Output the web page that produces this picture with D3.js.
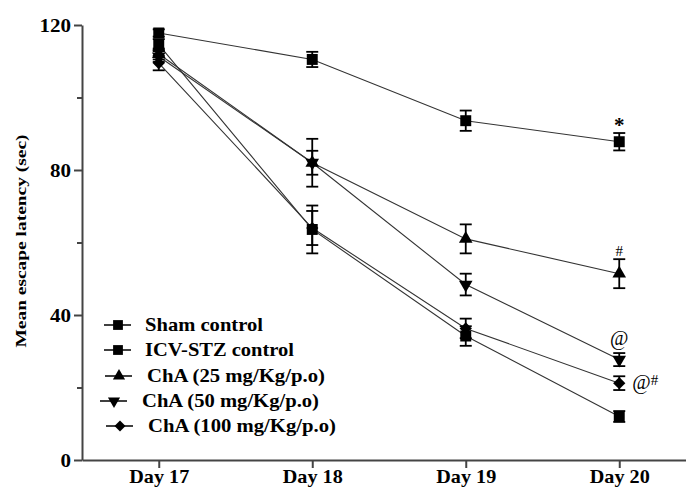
<!DOCTYPE html>
<html lang="en">
<head>
<meta charset="UTF-8">
<title>Mean escape latency</title>
<script src="https://d3js.org/d3.v7.min.js"></script>
<style>
    body { margin: 0; background: #fff; }
    svg { display: block; }
    text { font-family: "Liberation Serif", "Times New Roman", serif; fill: #000; }
    .axis path, .axis line { stroke: #444; stroke-width: 2; }
    .axis text { font-weight: bold; font-size: 19px; }
    .series { fill: none; stroke: #333; stroke-width: 1.1; }
    .err { stroke: #000; stroke-width: 1.8; }
    .legend text { font-weight: bold; font-size: 19px; }
</style>
</head>
<body>
<div id="chart"></div>
<script>
    // data
    const days = ['Day 17', 'Day 18', 'Day 19', 'Day 20'];
    const shamMean = [117.8, 110.5, 93.6, 87.8];
    const shamErr = [1.0, 2.1, 2.8, 2.4];
    const icvMean = [114.6, 63.6, 34.2, 12.0];
    const icvErr = [1.5, 6.6, 2.7, 1.5];
    const cha25Mean = [112.0, 82.0, 61.0, 51.4];
    const cha25Err = [1.5, 6.6, 4.0, 4.0];
    const cha50Mean = [111.3, 82.0, 48.4, 27.7];
    const cha50Err = [1.5, 3.3, 3.0, 1.8];
    const cha100Mean = [109.5, 64.0, 36.3, 21.2];
    const cha100Err = [2.0, 4.7, 2.7, 1.9];
    const seriesNames = ['Sham control', 'ICV-STZ control', 'ChA (25 mg/Kg/p.o)', 'ChA (50 mg/Kg/p.o)', 'ChA (100 mg/Kg/p.o)'];
    const yTicks = [0, 40, 80, 120];
    const yMinorTicks = [20, 60, 100];
    // significance marks: day, value at the text baseline, label
    const marks = [
        {day: 'Day 20', y: 90.6, text: '*'},
        {day: 'Day 20', y: 56.4, text: '#'},
        {day: 'Day 20', y: 31.8, text: '@'},
        {day: 'Day 20', y: 21.2, text: '@#'}
    ];

    const width = 686, height = 489;
    const svg = d3.select('#chart').append('svg')
        .attr('width', width)
        .attr('height', height);

    const x = d3.scalePoint().domain(days).range([82, 696]).padding(0.5);
    const y = d3.scaleLinear().domain([0, 120]).range([460, 25]);

    const series = [
        {name: seriesNames[0], mean: shamMean, err: shamErr, shape: 'square'},
        {name: seriesNames[1], mean: icvMean, err: icvErr, shape: 'square'},
        {name: seriesNames[2], mean: cha25Mean, err: cha25Err, shape: 'up'},
        {name: seriesNames[3], mean: cha50Mean, err: cha50Err, shape: 'down'},
        {name: seriesNames[4], mean: cha100Mean, err: cha100Err, shape: 'diamond'}
    ];

    function symbolPath(shape, scale) {
        const k = scale || 1;
        if (shape === 'square') return d3.symbol(d3.symbolSquare, 120 * k)();
        if (shape === 'diamond') return d3.symbol(d3.symbolSquare, 75 * k)();
        return d3.symbol(d3.symbolTriangle, 80 * k)();
    }
    function symbolRotate(shape) {
        if (shape === 'down') return 180;
        if (shape === 'diamond') return 45;
        return 0;
    }

    // axes
    const yAxis = svg.append('g')
        .attr('class', 'axis')
        .attr('transform', 'translate(82,0)')
        .call(d3.axisLeft(y).tickValues(yTicks).tickSize(8).tickSizeOuter(0).tickPadding(3));
    yAxis.selectAll('text')
        .attr('textLength', d => String(d).length * 10.5)
        .attr('lengthAdjust', 'spacingAndGlyphs');

    svg.append('g')
        .attr('class', 'axis')
        .attr('transform', 'translate(82,0)')
        .call(d3.axisLeft(y).tickValues(yMinorTicks).tickSize(5).tickFormat(''))
        .select('.domain').remove();

    const xAxis = svg.append('g')
        .attr('class', 'axis')
        .attr('transform', 'translate(0,460)')
        .call(d3.axisBottom(x).tickSize(8).tickSizeOuter(0).tickPadding(2));
    xAxis.selectAll('text')
        .attr('textLength', 60)
        .attr('lengthAdjust', 'spacingAndGlyphs');

    // y axis title
    svg.append('text')
        .attr('transform', 'translate(26,241) rotate(-90)')
        .attr('text-anchor', 'middle')
        .style('font-weight', 'bold')
        .style('font-size', '14px')
        .attr('textLength', 213)
        .attr('lengthAdjust', 'spacingAndGlyphs')
        .text('Mean escape latency (sec)');

    const line = d3.line()
        .x((d, i) => x(days[i]))
        .y(d => y(d));

    // lines
    svg.selectAll('.series')
        .data(series)
        .enter().append('path')
        .attr('class', 'series')
        .attr('d', s => line(s.mean));

    // error bars
    series.forEach(s => {
        const g = svg.append('g');
        s.mean.forEach((m, i) => {
            const cx = x(days[i]);
            g.append('line').attr('class', 'err')
                .attr('x1', cx).attr('x2', cx)
                .attr('y1', y(m + s.err[i])).attr('y2', y(m - s.err[i]));
            [m + s.err[i], m - s.err[i]].forEach(v => {
                g.append('line').attr('class', 'err')
                    .attr('x1', cx - 6).attr('x2', cx + 6)
                    .attr('y1', y(v)).attr('y2', y(v));
            });
        });
    });

    // markers
    series.forEach(s => {
        svg.append('g').selectAll('path')
            .data(s.mean)
            .enter().append('path')
            .attr('d', symbolPath(s.shape))
            .attr('transform', (d, i) => `translate(${x(days[i])},${y(d)}) rotate(${symbolRotate(s.shape)})`)
            .attr('fill', '#000');
    });

    // significance marks
    svg.append('text')
        .attr('x', x(marks[0].day)).attr('y', y(marks[0].y))
        .attr('text-anchor', 'middle')
        .style('font-weight', 'bold').style('font-size', '21px')
        .text(marks[0].text);
    svg.append('text')
        .attr('x', x(marks[1].day)).attr('y', y(marks[1].y))
        .attr('text-anchor', 'middle')
        .style('font-size', '15px')
        .text(marks[1].text);
    svg.append('text')
        .attr('x', x(marks[2].day)).attr('y', y(marks[2].y))
        .attr('text-anchor', 'middle')
        .style('font-size', '20px')
        .text(marks[2].text);
    const at = svg.append('text')
        .attr('x', x(marks[3].day) + 13).attr('y', y(marks[3].y) + 6);
    at.append('tspan').style('font-size', '20px').text(marks[3].text[0]);
    at.append('tspan').attr('dy', -4).style('font-size', '15px').text(marks[3].text[1]);

    // legend
    const legendY = [325, 350, 376, 401, 426];
    const legendSym = [118, 118, 119, 114, 120];
    const legendText = [145, 145, 147, 142, 148];
    const legendLen = [118, 149, 178, 177, 188];
    const legend = svg.append('g').attr('class', 'legend');
    series.forEach((s, i) => {
        const g = legend.append('g');
        g.append('line')
            .attr('x1', legendSym[i] - 14).attr('x2', legendSym[i] + 13)
            .attr('y1', legendY[i]).attr('y2', legendY[i])
            .attr('stroke', '#000').attr('stroke-width', 1.5);
        g.append('path')
            .attr('d', symbolPath(s.shape, 0.8))
            .attr('transform', `translate(${legendSym[i]},${legendY[i]}) rotate(${symbolRotate(s.shape)})`)
            .attr('fill', '#000');
        g.append('text')
            .attr('x', legendText[i]).attr('y', legendY[i] + 6)
            .attr('textLength', legendLen[i])
            .attr('lengthAdjust', 'spacingAndGlyphs')
            .text(s.name);
    });
</script>
</body>
</html>
